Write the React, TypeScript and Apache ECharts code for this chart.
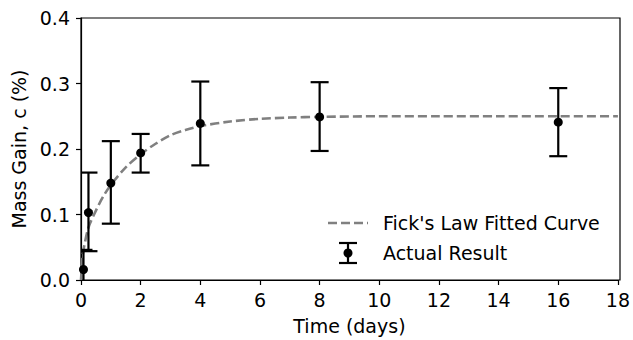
import React, { useEffect, useRef } from "react";
import * as echarts from "echarts";

// Measured data (time in days, mass gain in %)
const times = [0.083, 0.25, 1, 2, 4, 8, 16];
const means = [0.016, 0.103, 0.148, 0.194, 0.239, 0.249, 0.241];
const lows = [-0.012, 0.044, 0.086, 0.164, 0.175, 0.197, 0.189];
const highs = [0.046, 0.164, 0.212, 0.223, 0.303, 0.302, 0.293];

// Fitted curve
const curveT = [0, 0.05, 0.1, 0.25, 0.5, 0.75, 1, 1.5, 2, 2.5, 3, 3.5, 4, 5, 6, 7, 8, 10, 12, 14, 16, 18];
const curveC = [0.0, 0.035, 0.05, 0.08, 0.106, 0.128, 0.145, 0.172, 0.192, 0.208, 0.221, 0.229, 0.235, 0.242, 0.246, 0.248, 0.249, 0.25, 0.25, 0.25, 0.25, 0.25];

const xTicks = [0, 2, 4, 6, 8, 10, 12, 14, 16, 18];
const yTicks = [0.0, 0.1, 0.2, 0.3, 0.4];

const FONT = "DejaVu Sans";
const FS = 19;

export default function App() {
  const ref = useRef<HTMLDivElement>(null);
  useEffect(() => {
    if (!ref.current) return;
    const chart = echarts.init(ref.current, undefined, { renderer: "svg" });
    const curveData = curveT.map((t, i) => [t, curveC[i]]);
    const pointData = times.map((t, i) => [t, means[i]]);
    const errData = times.map((t, i) => [t, lows[i], highs[i]]);
    const legendText = (text: string, y: number) => ({
      type: "text",
      x: 383,
      y,
      style: {
        text,
        fontFamily: FONT,
        fontSize: FS,
        fill: "#000",
        verticalAlign: "middle",
        align: "left",
      },
    });
    chart.setOption({
      animation: false,
      backgroundColor: "#ffffff",
      grid: { left: 81, right: 13, top: 18, bottom: 60, show: false },
      xAxis: {
        type: "value",
        min: xTicks[0],
        max: xTicks[xTicks.length - 1],
        interval: 2,
        name: "Time (days)",
        nameLocation: "middle",
        nameGap: 36,
        nameTextStyle: { fontFamily: FONT, fontSize: FS, color: "#000" },
        axisLine: { show: true, lineStyle: { color: "#000", width: 1.2 } },
        axisTick: { show: true, inside: false, length: 5, lineStyle: { color: "#000", width: 1.2 } },
        axisLabel: { fontFamily: FONT, fontSize: FS, color: "#000", margin: 10 },
        splitLine: { show: false },
      },
      yAxis: {
        type: "value",
        min: yTicks[0],
        max: yTicks[yTicks.length - 1],
        interval: 0.1,
        name: "Mass Gain, c (%)",
        nameLocation: "middle",
        nameGap: 52,
        nameTextStyle: { fontFamily: FONT, fontSize: FS, color: "#000" },
        axisLine: { show: true, lineStyle: { color: "#000", width: 1.2 } },
        axisTick: { show: true, inside: false, length: 5, lineStyle: { color: "#000", width: 1.2 } },
        axisLabel: {
          fontFamily: FONT,
          fontSize: FS,
          color: "#000",
          margin: 11,
          formatter: (v: number) => v.toFixed(1),
        },
        splitLine: { show: false },
      },
      series: [
        {
          name: "Fick's Law Fitted Curve",
          type: "line",
          data: curveData,
          smooth: 0.3,
          showSymbol: false,
          symbol: "none",
          lineStyle: { color: "#808080", width: 2.6, type: [9, 4] },
          z: 2,
        },
        {
          name: "Actual Result errors",
          type: "custom",
          clip: true,
          data: errData,
          z: 3,
          renderItem: (params: any, api: any) => {
            const x = api.value(0);
            const lo = api.coord([x, api.value(1)]);
            const hi = api.coord([x, api.value(2)]);
            const half = 9;
            const style = { stroke: "#000", lineWidth: 2.2, fill: "none" };
            return {
              type: "group",
              children: [
                { type: "line", shape: { x1: lo[0], y1: lo[1], x2: hi[0], y2: hi[1] }, style },
                { type: "line", shape: { x1: lo[0] - half, y1: lo[1], x2: lo[0] + half, y2: lo[1] }, style },
                { type: "line", shape: { x1: hi[0] - half, y1: hi[1], x2: hi[0] + half, y2: hi[1] }, style },
              ],
            };
          },
        },
        {
          name: "Actual Result",
          type: "scatter",
          data: pointData,
          symbol: "circle",
          symbolSize: 9,
          itemStyle: { color: "#000", opacity: 1 },
          z: 4,
        },
      ],
      graphic: [
        {
          type: "line",
          shape: { x1: 328, y1: 223, x2: 368, y2: 223 },
          style: { stroke: "#808080", lineWidth: 2.6, lineDash: [9, 4] },
        },
        legendText("Fick's Law Fitted Curve", 223),
        { type: "line", shape: { x1: 348, y1: 243, x2: 348, y2: 263 }, style: { stroke: "#000", lineWidth: 2.2 } },
        { type: "line", shape: { x1: 339, y1: 243, x2: 357, y2: 243 }, style: { stroke: "#000", lineWidth: 2.2 } },
        { type: "line", shape: { x1: 339, y1: 263, x2: 357, y2: 263 }, style: { stroke: "#000", lineWidth: 2.2 } },
        { type: "circle", shape: { cx: 348, cy: 253, r: 4.5 }, style: { fill: "#000" } },
        legendText("Actual Result", 253),
        {
          type: "rect",
          shape: { x: 81, y: 18, width: 539, height: 262 },
          style: { fill: "none", stroke: "#000", lineWidth: 1.2 },
          silent: true,
          z: 0,
        },
      ],
    });
    return () => chart.dispose();
  }, []);
  return <div ref={ref} style={{ position: "fixed", left: 0, top: 0, width: 633, height: 340 }} />;
}
